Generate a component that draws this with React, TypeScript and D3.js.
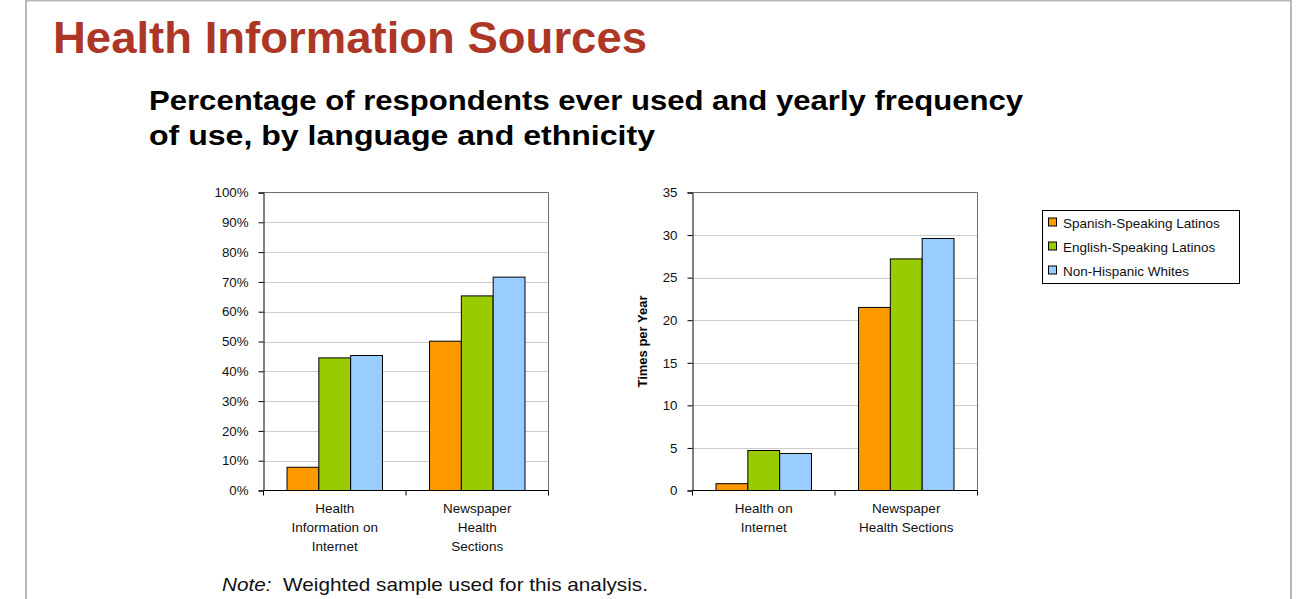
import React from "react";
import { useEffect, useRef } from "react";
import * as d3 from "d3";

// chart data
const seriesNames = ["Spanish-Speaking Latinos", "English-Speaking Latinos", "Non-Hispanic Whites"];
const seriesColors = ["#FF9900", "#99CC00", "#99CCFF"];

const everUsedCategories = ["Health|Information on|Internet", "Newspaper|Health|Sections"];
const everUsedSpanish = [7.8, 50.1];
const everUsedEnglish = [44.5, 65.3];
const everUsedWhites = [45.3, 71.6];
const everUsedTicks = [0, 10, 20, 30, 40, 50, 60, 70, 80, 90, 100];

const frequencyCategories = ["Health on|Internet", "Newspaper|Health Sections"];
const frequencySpanish = [0.8, 21.5];
const frequencyEnglish = [4.7, 27.2];
const frequencyWhites = [4.35, 29.6];
const frequencyTicks = [0, 5, 10, 15, 20, 25, 30, 35];

const FONT = "Arial, 'Liberation Sans', sans-serif";

const App: React.FC = () => {
  const svgRef = useRef<SVGSVGElement | null>(null);
  const width = 1296;
  const height = 599;

  useEffect(() => {
    if (!svgRef.current) return;
    const svg = d3.select(svgRef.current);
    svg.selectAll("*").remove();

    // slide frame
    svg
      .append("rect")
      .attr("x", 26)
      .attr("y", 0.5)
      .attr("width", 1265)
      .attr("height", 620)
      .attr("fill", "#fff")
      .attr("stroke", "#b8b8b8")
      .attr("stroke-width", 2);

    // title
    svg
      .append("text")
      .attr("x", 53)
      .attr("y", 53)
      .attr("font-family", FONT)
      .attr("font-weight", "bold")
      .attr("font-size", 45)
      .attr("fill", "#AD3726")
      .attr("textLength", 594)
      .attr("lengthAdjust", "spacingAndGlyphs")
      .text("Health Information Sources");

    const sub = [
      { t: "Percentage of respondents ever used and yearly frequency", y: 110, w: 874 },
      { t: "of use, by language and ethnicity", y: 145, w: 506 },
    ];
    sub.forEach((s) => {
      svg
        .append("text")
        .attr("x", 149)
        .attr("y", s.y)
        .attr("font-family", FONT)
        .attr("font-weight", "bold")
        .attr("font-size", 28)
        .attr("fill", "#000")
        .attr("textLength", s.w)
        .attr("lengthAdjust", "spacingAndGlyphs")
        .text(s.t);
    });

    // draws one grouped bar chart
    const drawChart = (
      x0: number,
      x1: number,
      categories: string[],
      values: number[][],
      ticks: number[],
      maxY: number,
      fmt: (v: number) => string,
      yTitle: string | null
    ) => {
      const top = 192.5;
      const bottom = 490.5;
      const g = svg.append("g");

      const xScale = d3
        .scaleBand()
        .domain(categories)
        .range([x0, x1])
        .paddingInner(0.33)
        .paddingOuter(0.165);
      const inner = d3
        .scaleBand()
        .domain(seriesNames)
        .range([0, xScale.bandwidth()]);
      const yScale = d3.scaleLinear().domain([0, maxY]).range([bottom, top]);

      // gridlines
      g.selectAll(".grid")
        .data(ticks.filter((t) => t > 0 && t < maxY))
        .enter()
        .append("line")
        .attr("x1", x0)
        .attr("x2", x1)
        .attr("y1", (d) => Math.round(yScale(d)) + 0.5)
        .attr("y2", (d) => Math.round(yScale(d)) + 0.5)
        .attr("stroke", "#cccccc")
        .attr("stroke-width", 1);

      // plot border top/right
      g.append("path")
        .attr("d", `M${x0},${top}H${x1}V${bottom}`)
        .attr("fill", "none")
        .attr("stroke", "#6e6e6e")
        .attr("stroke-width", 1);

      // bars
      seriesNames.forEach((name, si) => {
        g.selectAll(".bar" + si)
          .data(categories)
          .enter()
          .append("rect")
          .attr("x", (d) => (xScale(d) as number) + (inner(name) as number))
          .attr("y", (_d, i) => yScale(values[si][i]))
          .attr("width", inner.bandwidth())
          .attr("height", (_d, i) => bottom - yScale(values[si][i]))
          .attr("fill", seriesColors[si])
          .attr("stroke", "#000")
          .attr("stroke-width", 1);
      });

      // y axis
      const yAxis = d3
        .axisLeft(yScale)
        .tickValues(ticks)
        .tickSize(5)
        .tickPadding(10)
        .tickFormat((d) => fmt(d as number));
      const ya = g.append("g").attr("transform", `translate(${x0},0)`).call(yAxis);
      ya.select(".domain").attr("stroke", "#000");
      ya.selectAll("line").attr("stroke", "#000");
      ya.selectAll("text")
        .attr("font-family", FONT)
        .attr("font-size", 13.3)
        .attr("fill", "#111");

      // x axis line with ticks at category boundaries
      g.append("line")
        .attr("x1", x0)
        .attr("x2", x1)
        .attr("y1", bottom)
        .attr("y2", bottom)
        .attr("stroke", "#000");
      const step = (x1 - x0) / categories.length;
      d3.range(categories.length + 1).forEach((i) => {
        g.append("line")
          .attr("x1", x0 + i * step)
          .attr("x2", x0 + i * step)
          .attr("y1", bottom)
          .attr("y2", bottom + 5)
          .attr("stroke", "#000");
      });

      // category labels
      categories.forEach((c) => {
        const cx = (xScale(c) as number) + xScale.bandwidth() / 2;
        c.split("|").forEach((line, li) => {
          g.append("text")
            .attr("x", cx)
            .attr("y", 513 + li * 19)
            .attr("text-anchor", "middle")
            .attr("font-family", FONT)
            .attr("font-size", 13.5)
            .attr("fill", "#111")
            .text(line);
        });
      });

      if (yTitle) {
        g.append("text")
          .attr("transform", `translate(646.5,${(top + bottom) / 2}) rotate(-90)`)
          .attr("text-anchor", "middle")
          .attr("font-family", FONT)
          .attr("font-weight", "bold")
          .attr("font-size", 13)
          .attr("fill", "#000")
          .text(yTitle);
      }
    };

    drawChart(
      263.5,
      548.5,
      everUsedCategories,
      [everUsedSpanish, everUsedEnglish, everUsedWhites],
      everUsedTicks,
      100,
      (v) => v + "%",
      null
    );
    drawChart(
      692.5,
      977.5,
      frequencyCategories,
      [frequencySpanish, frequencyEnglish, frequencyWhites],
      frequencyTicks,
      35,
      (v) => String(v),
      "Times per Year"
    );

    // legend
    const legend = svg.append("g").attr("transform", "translate(1042,210)");
    legend
      .append("rect")
      .attr("x", 0.5)
      .attr("y", 0.5)
      .attr("width", 197)
      .attr("height", 73)
      .attr("fill", "#fff")
      .attr("stroke", "#000");
    seriesNames.forEach((name, i) => {
      const item = legend.append("g").attr("transform", `translate(0,${12.5 + i * 24})`);
      item
        .append("rect")
        .attr("x", 6.5)
        .attr("y", -4.5)
        .attr("width", 8)
        .attr("height", 8)
        .attr("fill", seriesColors[i])
        .attr("stroke", "#000");
      item
        .append("text")
        .attr("x", 21)
        .attr("y", 5)
        .attr("font-family", FONT)
        .attr("font-size", 13.5)
        .attr("fill", "#111")
        .text(name);
    });

    // note
    const note = svg
      .append("text")
      .attr("x", 222)
      .attr("y", 591)
      .attr("font-family", FONT)
      .attr("font-size", 19)
      .attr("fill", "#111")
      .attr("textLength", 426)
      .attr("lengthAdjust", "spacingAndGlyphs");
    note.append("tspan").attr("font-style", "italic").text("Note:");
    note.append("tspan").attr("xml:space", "preserve").text("  Weighted sample used for this analysis.");
  }, []);

  return (
    <svg
      ref={svgRef}
      width={width}
      height={height}
      style={{ position: "absolute", left: 0, top: 0 }}
    ></svg>
  );
};

export default App;
